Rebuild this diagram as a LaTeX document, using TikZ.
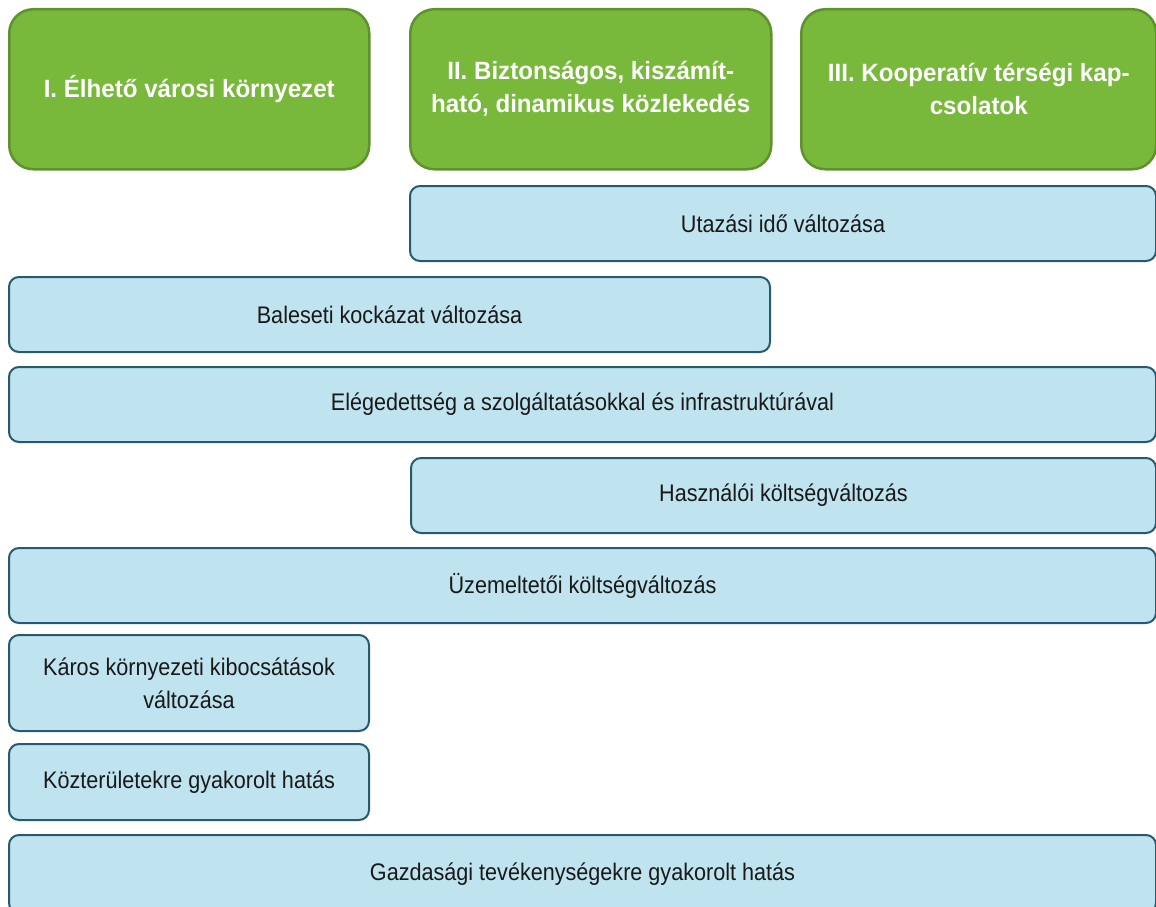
\documentclass[tikz,border=0pt]{standalone}
\usepackage{fontspec}
\setmainfont{Liberation Sans}[FakeStretch=0.9]
\newfontfamily\headfont{Liberation Sans}[FakeStretch=0.965]
\definecolor{goalgreen}{HTML}{78B83A}
\definecolor{goalline}{HTML}{5F922D}
\definecolor{impactblue}{HTML}{C0E4EF}
\definecolor{impactline}{HTML}{275A6E}

\begin{document}
\begin{tikzpicture}[x=1pt,y=-1pt,
goal/.style={draw=goalline,line width=2.5pt,fill=goalgreen,rounded corners=24pt,anchor=north west,align=center,inner sep=0pt,minimum height=160pt,text=white,font=\headfont\bfseries\fontsize{25}{33}\selectfont},
impact/.style={draw=impactline,line width=2pt,fill=impactblue,rounded corners=10pt,anchor=north west,align=center,inner sep=0pt,minimum height=75pt,text=black!90,font=\fontsize{24}{33}\selectfont}]
\useasboundingbox (0,0) rectangle (1156,907);
% objectives
\node[goal,minimum width=360pt](livable) at (8,8) {I. Élhető városi környezet};
\node[goal,minimum width=361pt](safe) at (409,8) {II. Biztonságos, kiszámít-\\ható, dinamikus közlekedés};
\node[goal,minimum width=355pt](regional) at (800,8) {III. Kooperatív térségi kap-\\csolatok};
% impacts
\node[impact,minimum width=746pt](traveltime) at (409,185) {Utazási idő változása};
\node[impact,minimum width=761pt](accident) at (8,276) {Baleseti kockázat változása};
\node[impact,minimum width=1147pt](satisfaction) at (8,366) {Elégedettség a szolgáltatásokkal és infrastruktúrával};
\node[impact,minimum width=745pt](usercost) at (410,457) {Használói költségváltozás};
\node[impact,minimum width=1147pt](opcost) at (8,547) {Üzemeltetői költségváltozás};
\node[impact,minimum width=360pt,minimum height=96pt](emission) at (8,634) {Káros környezeti kibocsátások\\változása};
\node[impact,minimum width=360pt,minimum height=76pt](publicspace) at (8,743) {Közterületekre gyakorolt hatás};
\node[impact,minimum width=1147pt,minimum height=78pt](economy) at (8,834) {Gazdasági tevékenységekre gyakorolt hatás};
\end{tikzpicture}
\end{document}
